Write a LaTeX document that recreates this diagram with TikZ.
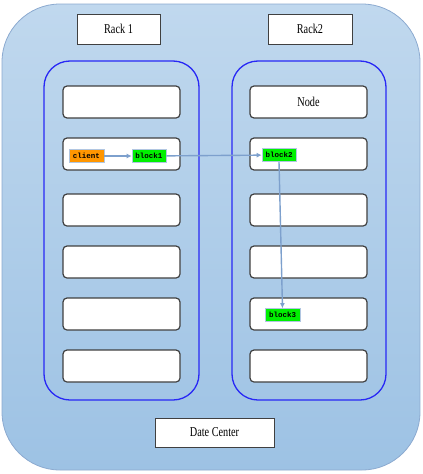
\documentclass[tikz,border=0pt]{standalone}
\usepackage{fontspec}
\setmainfont{Liberation Serif}
\setmonofont{Liberation Mono}
\usepackage{graphicx}
\usetikzlibrary{arrows.meta}
\definecolor{dctop}{RGB}{192,216,238}
\definecolor{dcbot}{RGB}{157,194,228}
\definecolor{dcline}{RGB}{140,170,208}
\definecolor{rackblue}{RGB}{40,40,245}
\definecolor{arrowc}{RGB}{125,160,205}
\definecolor{clientc}{RGB}{255,150,0}
\definecolor{blockc}{RGB}{0,240,0}
\begin{document}
\begin{tikzpicture}[x=1pt,y=-1pt,
  labelbox/.style={draw=black!75,fill=white,line width=1pt,inner sep=0pt},
  nodebox/.style={draw=black!75,fill=white,line width=1.2pt,rounded corners=4pt,inner sep=0pt},
  rackbox/.style={draw=rackblue,line width=1.3pt,rounded corners=26pt},
  tag/.style={draw=arrowc!60,line width=0.6pt,inner sep=0pt,minimum height=13pt,font=\ttfamily\bfseries\fontsize{7.5}{8}\selectfont},
  flow/.style={draw=arrowc,line width=1.4pt,-{Latex[length=5pt,width=5pt]}},
  lbl/.style={font=\fontsize{13.5}{15}\selectfont}
]
\useasboundingbox (0,0) rectangle (423,474);
\fill[white] (0,0) rectangle (423,474);
% data center
\shade[top color=dctop,bottom color=dcbot,draw=dcline,line width=0.8pt,rounded corners=58pt]
  (2,4) rectangle (420,470);
% labels
\node[labelbox,minimum width=83pt,minimum height=30pt,lbl] (rack1) at (118.5,29) {\scalebox{0.76}[1]{Rack 1}};
\node[labelbox,minimum width=84pt,minimum height=30pt,lbl] (rack2) at (310,29) {\scalebox{0.76}[1]{Rack2}};
\node[labelbox,minimum width=119pt,minimum height=29pt,lbl] (dc) at (214.5,432.5) {\scalebox{0.76}[1]{Date Center}};
% racks
\draw[rackbox] (44,61) rectangle (199,400);
\draw[rackbox] (232,61) rectangle (386,400);
% nodes
\foreach \i/\y in {1/102,2/154,3/210,4/262,5/314,6/366}{
  \node[nodebox,minimum width=117pt,minimum height=32pt] (L\i) at (121.5,\y) {};
}
\node[nodebox,minimum width=117pt,minimum height=32pt,lbl] (R1) at (308.5,102) {\scalebox{0.76}[1]{Node}};
\foreach \i/\y in {2/154,3/210,4/262,5/314,6/366}{
  \node[nodebox,minimum width=117pt,minimum height=32pt] (R\i) at (308.5,\y) {};
}
% tags
\node[tag,fill=clientc,minimum width=35pt] (client) at (86.5,156) {client};
\node[tag,fill=blockc,minimum width=34pt] (block1) at (149,156) {block1};
\node[tag,fill=blockc,minimum width=34pt] (block2) at (279,155) {block2};
\node[tag,fill=blockc,minimum width=35pt] (block3) at (282.5,315) {block3};
% arrows
\draw[flow] (client) -- (block1);
\draw[flow] (block1) -- (block2);
\draw[flow] (block2.south) -- (block3.north);
\end{tikzpicture}
\end{document}
